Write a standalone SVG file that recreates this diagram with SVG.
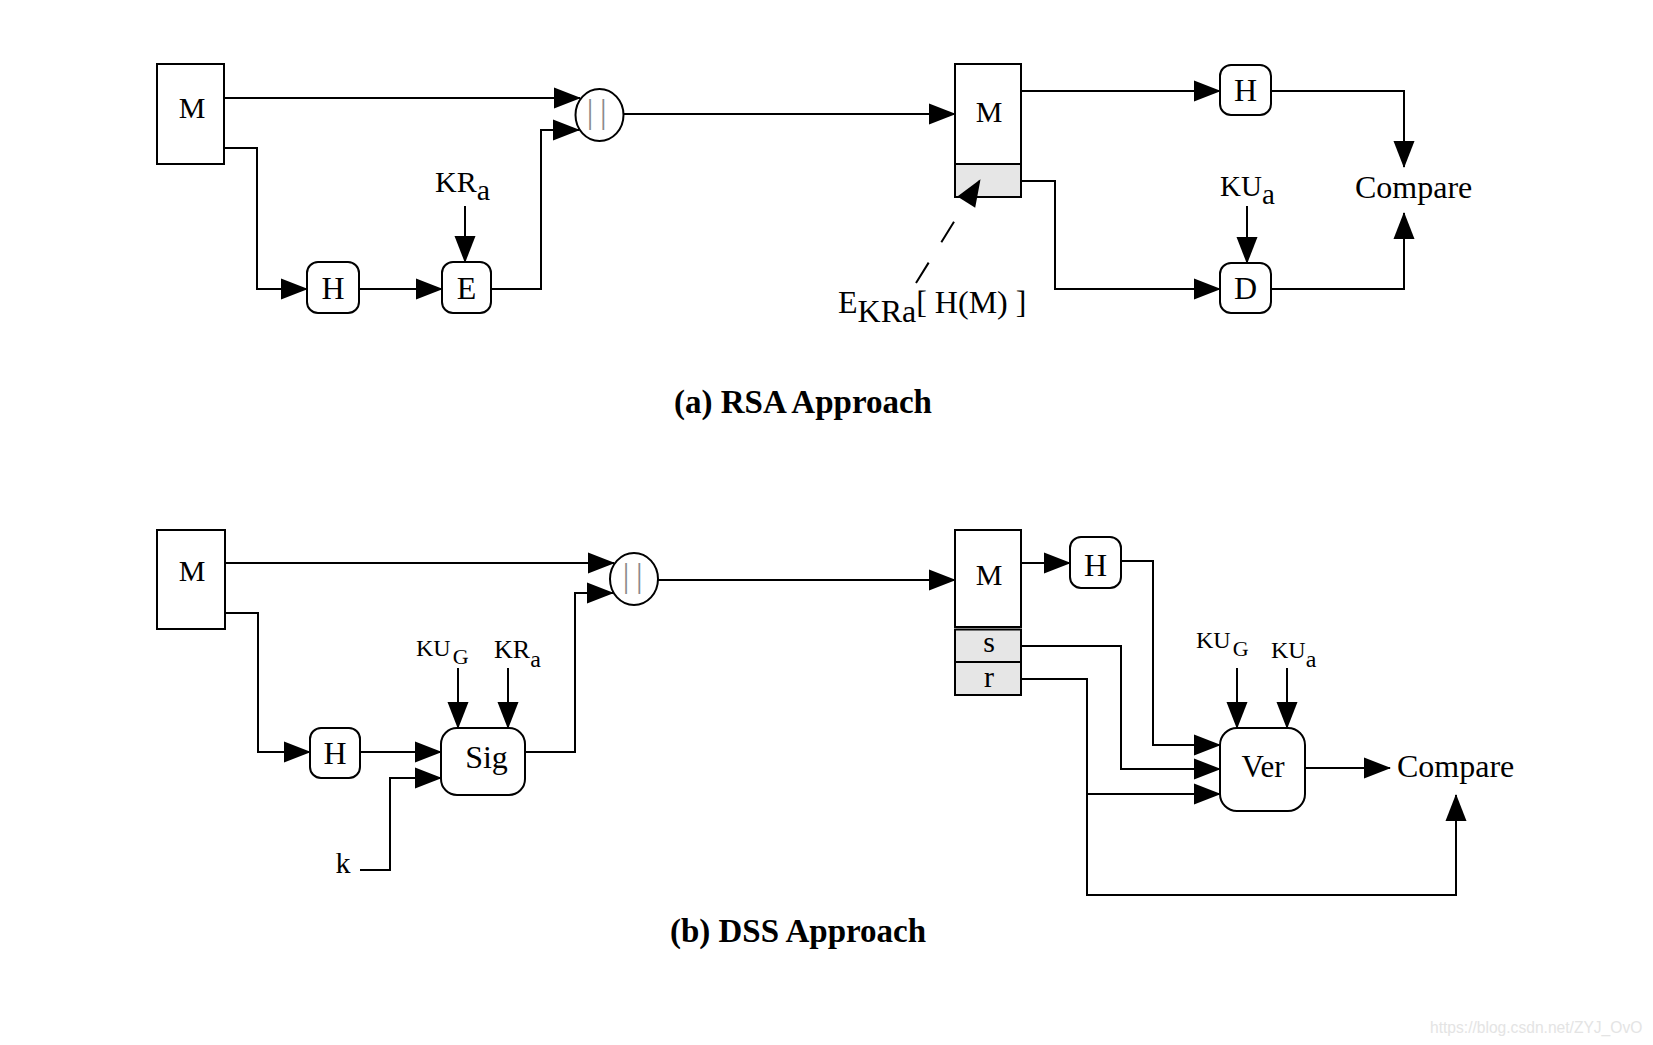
<svg xmlns="http://www.w3.org/2000/svg" width="1653" height="1045" viewBox="0 0 1653 1045">
<style>
  .n { fill:#fff; stroke:#000; stroke-width:2; }
  .g { fill:#e6e6e6; stroke:#000; stroke-width:2; }
  .t { font-family:"Liberation Serif","Times New Roman",serif; fill:#000; }
  .mid { text-anchor:middle; }
  .bar { font-family:"Liberation Serif","Times New Roman",serif; fill:#8a8a8a; font-size:33px; letter-spacing:6.7px; }
  .c { fill:none; stroke:#000; stroke-width:2; marker-end:url(#ah); }
  .title { font-family:"Liberation Serif","Times New Roman",serif; font-weight:bold; font-size:33px; text-anchor:middle; fill:#000; }
</style>
<defs>
  <marker id="ah" markerUnits="userSpaceOnUse" markerWidth="27" markerHeight="21" refX="26" refY="10.5" orient="auto" overflow="visible">
    <path d="M0,0 L27,10.5 L0,21 Z" fill="#000"/>
  </marker>
</defs>
<rect width="1653" height="1045" fill="#fff"/>

<!-- (a) RSA Approach -->
<g id="a_M">
  <rect class="n" x="157" y="64" width="67" height="100"/>
  <text class="t mid" x="192" y="118" font-size="30">M</text>
</g>
<g id="a_H1">
  <rect class="n" x="307" y="262" width="52" height="51" rx="11"/>
  <text class="t mid" x="333" y="299" font-size="32">H</text>
</g>
<g id="a_E">
  <rect class="n" x="442" y="262" width="49" height="51" rx="11"/>
  <text class="t mid" x="466.5" y="299" font-size="32">E</text>
</g>
<g id="a_concat">
  <ellipse class="n" cx="599.5" cy="115" rx="24" ry="26"/>
  <text class="bar" x="586.7" y="123">||</text>
</g>
<g id="a_M2">
  <rect class="n" x="955" y="64" width="66" height="100"/>
  <rect class="g" x="955" y="164" width="66" height="33"/>
  <text class="t mid" x="989" y="122" font-size="30">M</text>
</g>
<g id="a_H2">
  <rect class="n" x="1220" y="65" width="51" height="50" rx="11"/>
  <text class="t mid" x="1245.5" y="101" font-size="32">H</text>
</g>
<g id="a_D">
  <rect class="n" x="1220" y="263" width="51" height="50" rx="11"/>
  <text class="t mid" x="1245.5" y="299" font-size="32">D</text>
</g>
<g id="a_KRa">
  <text class="t" x="435" y="192" font-size="30">KR<tspan dy="8">a</tspan></text>
</g>
<g id="a_KUa">
  <text class="t" x="1220" y="196" font-size="29">KU<tspan dy="8">a</tspan></text>
</g>
<g id="a_compare">
  <text class="t" x="1355" y="198" font-size="32">Compare</text>
</g>
<g id="a_sig_label">
  <text class="t" x="838" y="313" font-size="32">E<tspan dy="9">KRa</tspan><tspan dy="-9">[ H(M) ]</tspan></text>
</g>
<text class="title" x="803" y="413">(a) RSA Approach</text>

<!-- (b) DSS Approach -->
<g id="b_M">
  <rect class="n" x="157" y="530" width="68" height="99"/>
  <text class="t mid" x="192" y="581" font-size="30">M</text>
</g>
<g id="b_H1">
  <rect class="n" x="310" y="728" width="50" height="50" rx="11"/>
  <text class="t mid" x="335" y="764" font-size="32">H</text>
</g>
<g id="b_Sig">
  <rect class="n" x="441" y="728" width="84" height="67" rx="16"/>
  <text class="t mid" x="486.5" y="768" font-size="32">Sig</text>
</g>
<g id="b_concat">
  <ellipse class="n" cx="634" cy="579" rx="24" ry="26"/>
  <text class="bar" x="622.7" y="587">||</text>
</g>
<g id="b_M2">
  <rect class="n" x="955" y="530" width="66" height="97"/>
  <rect class="g" x="955" y="629.5" width="66" height="32.5"/>
  <rect class="g" x="955" y="662" width="66" height="33"/>
  <text class="t mid" x="989" y="585" font-size="30">M</text>
  <text class="t mid" x="989" y="652" font-size="30">s</text>
  <text class="t mid" x="989" y="687" font-size="30">r</text>
</g>
<g id="b_H2">
  <rect class="n" x="1070" y="537" width="51" height="51" rx="11"/>
  <text class="t mid" x="1095.5" y="576" font-size="32">H</text>
</g>
<g id="b_Ver">
  <rect class="n" x="1220" y="728" width="85" height="83" rx="17"/>
  <text class="t mid" x="1263" y="777" font-size="31">Ver</text>
</g>
<g id="b_k">
  <text class="t" x="335.6" y="873" font-size="30">k</text>
</g>
<g id="b_KUG1">
  <text class="t" x="416" y="656" font-size="24">KU<tspan dy="8" dx="2" font-size="22">G</tspan></text>
</g>
<g id="b_KRa">
  <text class="t" x="494" y="658" font-size="26">KR<tspan dy="9" font-size="24">a</tspan></text>
</g>
<g id="b_KUG2">
  <text class="t" x="1196" y="648" font-size="24">KU<tspan dy="8" dx="2" font-size="22">G</tspan></text>
</g>
<g id="b_KUa">
  <text class="t" x="1271" y="658" font-size="24">KU<tspan dy="9">a</tspan></text>
</g>
<g id="b_compare">
  <text class="t" x="1397" y="777" font-size="32">Compare</text>
</g>
<text class="title" x="798" y="942">(b) DSS Approach</text>

<!-- connectors -->
<g id="connectors">
  <path class="c" d="M224,98 H580"/>
  <path class="c" d="M224,148 H257 V289 H307"/>
  <path class="c" d="M359,289 H442"/>
  <path class="c" d="M465,206 V262"/>
  <path class="c" d="M491,289 H541 V130 H579"/>
  <path class="c" d="M623.5,114 H955"/>
  <path class="c" d="M1021,91 H1220"/>
  <path class="c" d="M1271,91 H1404 V167"/>
  <path class="c" d="M1021,181 H1055 V289 H1220"/>
  <path class="c" d="M1247,206 V263"/>
  <path class="c" d="M1271,289 H1404 V213"/>
  <path class="c" d="M916,283 L980,180" stroke-dasharray="24 24"/>

  <path class="c" d="M225,563 H614"/>
  <path class="c" d="M225,613 H258 V752 H310"/>
  <path class="c" d="M360,752 H441"/>
  <path class="c" d="M360,870 H390 V778 H441"/>
  <path class="c" d="M458,668 V728"/>
  <path class="c" d="M508,668 V728"/>
  <path class="c" d="M525,752 H575 V593 H613"/>
  <path class="c" d="M658,580 H955"/>
  <path class="c" d="M1021,563 H1070"/>
  <path class="c" d="M1121,561 H1153 V745 H1220"/>
  <path class="c" d="M1021,646 H1121 V769 H1220"/>
  <path class="c" d="M1021,679 H1087 V895 H1456 V795"/>
  <path class="c" d="M1087,794 H1220"/>
  <path class="c" d="M1305,768 H1390"/>
  <path class="c" d="M1237,668 V728"/>
  <path class="c" d="M1287,668 V728"/>
</g>

<text x="1430" y="1033" font-family="Liberation Sans, Arial, sans-serif" font-size="15.6" fill="#e4e4e4">https://blog.csdn.net/ZYJ_OvO</text>
</svg>
